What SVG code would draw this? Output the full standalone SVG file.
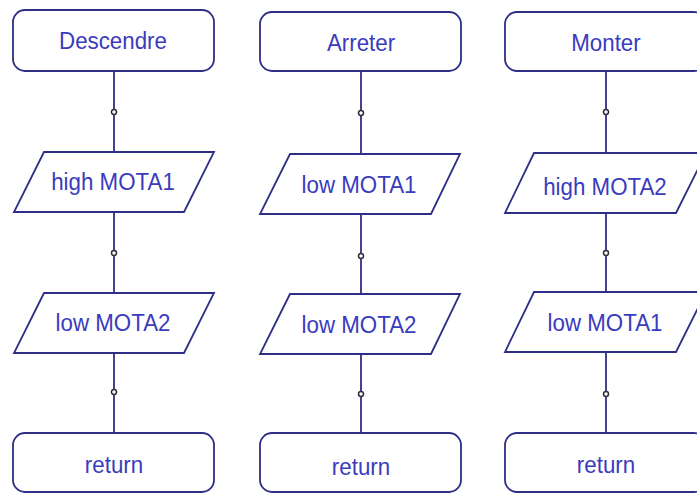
<svg xmlns="http://www.w3.org/2000/svg" width="697" height="493" viewBox="0 0 697 493">
<style>
.shape{fill:#ffffff;stroke:#2e2e86;stroke-width:1.8}
.conn{stroke:#2e2e86;stroke-width:1.8;fill:none}
.dot{fill:#ffffff;stroke:#30303c;stroke-width:1.5}
.lbl{font-family:"Liberation Sans",Arial,sans-serif;font-size:23.5px;fill:#3b3bbd;text-anchor:middle;dominant-baseline:central}
</style>
<rect width="697" height="493" fill="#ffffff"/>
<g id="connectors">
<line class="conn" x1="114" y1="71" x2="114" y2="152"/>
<line class="conn" x1="114" y1="212" x2="114" y2="293"/>
<line class="conn" x1="114" y1="353" x2="114" y2="433"/>
<circle class="dot" cx="114" cy="112" r="2.5"/>
<circle class="dot" cx="114" cy="253" r="2.5"/>
<circle class="dot" cx="114" cy="392" r="2.5"/>
<line class="conn" x1="361" y1="71" x2="361" y2="154"/>
<line class="conn" x1="361" y1="214" x2="361" y2="294"/>
<line class="conn" x1="361" y1="354" x2="361" y2="433"/>
<circle class="dot" cx="361" cy="113" r="2.5"/>
<circle class="dot" cx="361" cy="256" r="2.5"/>
<circle class="dot" cx="361" cy="394" r="2.5"/>
<line class="conn" x1="606" y1="71" x2="606" y2="153"/>
<line class="conn" x1="606" y1="213" x2="606" y2="292"/>
<line class="conn" x1="606" y1="352" x2="606" y2="433"/>
<circle class="dot" cx="606" cy="112" r="2.5"/>
<circle class="dot" cx="606" cy="253" r="2.5"/>
<circle class="dot" cx="606" cy="394" r="2.5"/>
</g>
<g id="descendre"><rect class="shape" x="13" y="10" width="201" height="61" rx="12"/><text class="lbl" x="113" y="41" transform="matrix(0.95,0,0,1,5.65,0)">Descendre</text></g>
<g id="high-mota1"><polygon class="shape" points="44,152 214,152 184,212 14,212"/><text class="lbl" x="113" y="182" transform="matrix(0.95,0,0,1,5.65,0)">high MOTA1</text></g>
<g id="low-mota2-a"><polygon class="shape" points="44,293 214,293 184,353 14,353"/><text class="lbl" x="113" y="323" transform="matrix(0.95,0,0,1,5.65,0)">low MOTA2</text></g>
<g id="return-a"><rect class="shape" x="13" y="433" width="201" height="59" rx="12"/><text class="lbl" x="114" y="465" transform="matrix(0.95,0,0,1,5.7,0)">return</text></g>
<g id="arreter"><rect class="shape" x="260" y="12" width="201" height="59" rx="12"/><text class="lbl" x="361" y="43" transform="matrix(0.95,0,0,1,18.05,0)">Arreter</text></g>
<g id="low-mota1-b"><polygon class="shape" points="290,154 460,154 431,214 260,214"/><text class="lbl" x="359" y="185" transform="matrix(0.95,0,0,1,17.95,0)">low MOTA1</text></g>
<g id="low-mota2-b"><polygon class="shape" points="290,294 460,294 431,354 260,354"/><text class="lbl" x="359" y="325" transform="matrix(0.95,0,0,1,17.95,0)">low MOTA2</text></g>
<g id="return-b"><rect class="shape" x="260" y="433" width="201" height="59" rx="12"/><text class="lbl" x="361" y="467" transform="matrix(0.95,0,0,1,18.05,0)">return</text></g>
<g id="monter"><rect class="shape" x="505" y="12" width="201" height="59" rx="12"/><text class="lbl" x="606" y="43" transform="matrix(0.95,0,0,1,30.3,0)">Monter</text></g>
<g id="high-mota2"><polygon class="shape" points="534,153 706,153 676,213 505,213"/><text class="lbl" x="605" y="187" transform="matrix(0.95,0,0,1,30.25,0)">high MOTA2</text></g>
<g id="low-mota1-c"><polygon class="shape" points="534,292 706,292 676,352 505,352"/><text class="lbl" x="605" y="323" transform="matrix(0.95,0,0,1,30.25,0)">low MOTA1</text></g>
<g id="return-c"><rect class="shape" x="505" y="433" width="201" height="59" rx="12"/><text class="lbl" x="606" y="465" transform="matrix(0.95,0,0,1,30.3,0)">return</text></g>
</svg>
